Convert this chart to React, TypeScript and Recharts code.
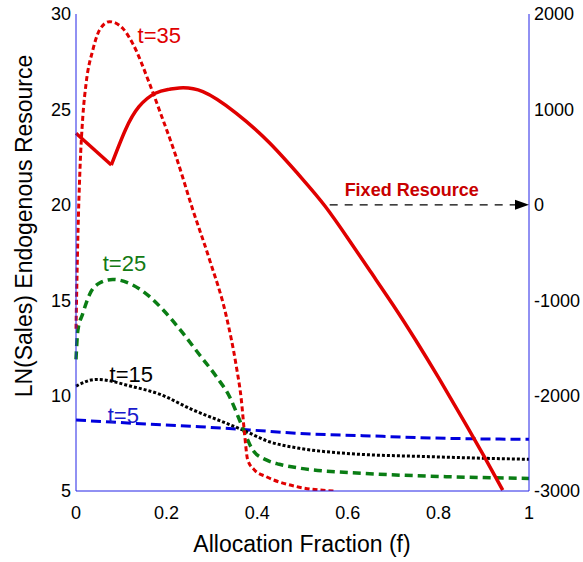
import React from 'react';
import { LineChart, Line, XAxis, YAxis, ReferenceLine, ReferenceDot, Customized } from 'recharts';

// allocation fraction samples and values
const t35F = [0, 0.004, 0.009, 0.015, 0.0225, 0.037, 0.052, 0.074, 0.103, 0.125, 0.162, 0.184, 0.221, 0.258, 0.295, 0.332, 0.354, 0.365, 0.372, 0.379, 0.394, 0.42, 0.493, 0.571];
const t35V = [13.5, 18.2, 22, 24.6, 26.4, 28.1, 29.16, 29.6, 29.25, 28.46, 26.37, 24.97, 22.52, 19.73, 17.11, 14.14, 11.52, 9.77, 8.02, 6.63, 6.1, 5.75, 5.2, 5.0];

const t25F = [0, 0.004, 0.015, 0.03, 0.052, 0.081, 0.125, 0.162, 0.192, 0.236, 0.273, 0.31, 0.339, 0.361, 0.376, 0.39, 0.42, 0.449, 0.493, 0.633, 0.817, 1];
const t25V = [11.9, 13.4, 14.3, 15.3, 15.9, 16.09, 15.8, 15.2, 14.5, 13.27, 12.13, 10.99, 9.94, 8.72, 7.85, 7.15, 6.63, 6.4, 6.2, 5.93, 5.75, 5.66];

const t15F = [0, 0.045, 0.125, 0.184, 0.258, 0.332, 0.368, 0.427, 0.493, 0.596, 0.78, 1];
const t15V = [10.5, 10.85, 10.47, 10.08, 9.25, 8.55, 8.2, 7.58, 7.24, 6.97, 6.8, 6.66];

const t5F = [0, 0.125, 0.273, 0.383, 0.493, 0.633, 0.817, 1];
const t5V = [8.72, 8.55, 8.37, 8.2, 8.02, 7.9, 7.76, 7.71];

// fixed resource (right axis): straight drop to the kink, then the smooth arc
const fixedDropF = [0, 0.078];
const fixedDropV = [750, 417];
const fixedArcF = [0.078, 0.109, 0.139, 0.175, 0.205, 0.228, 0.28, 0.354, 0.427, 0.5, 0.55, 0.6, 0.65, 0.7, 0.75, 0.8, 0.85, 0.9, 0.942];
const fixedArcV = [417, 784, 1028, 1169, 1210, 1225, 1186, 959, 650, 270, -15, -350, -700, -1050, -1420, -1810, -2215, -2630, -2990];

const xTicks = [0, 0.2, 0.4, 0.6, 0.8, 1];
const leftTicks = [5, 10, 15, 20, 25, 30];
const rightTicks = [-3000, -2000, -1000, 0, 1000, 2000];

const toPoints = (fs: number[], vs: number[]) => fs.map((f, i) => ({ f, v: vs[i] }));

const FONT = '"Liberation Sans", Arial, sans-serif';
const AXIS = '#2323e6';
const RED = '#e00000';
const tickStyle = { fill: '#000', fontSize: 18, fontFamily: FONT };

const TextMark = (text: string, color: string, size: number, bold = false) => (props: any) => (
  <text x={props.cx} y={props.cy} fill={color} fontSize={size} fontFamily={FONT} fontWeight={bold ? 'bold' : 'normal'}>
    {text}
  </text>
);

const ArrowHead = (props: any) => {
  const { cx, cy } = props;
  return <polygon points={`${cx},${cy} ${cx - 14},${cy - 5} ${cx - 14},${cy + 5}`} fill="#000" />;
};

const Titles = () => (
  <g fontFamily={FONT} fill="#000">
    <text x={302} y={552} textAnchor="middle" fontSize={23}>Allocation Fraction (f)</text>
    <text x={32} y={226} textAnchor="middle" fontSize={23} transform="rotate(-90 32 226)">LN(Sales) Endogenous Resource</text>
  </g>
);

export default function App() {
  return (
    <div style={{ position: 'absolute', left: 0, top: 0, background: '#fff' }}>
      <LineChart width={583} height={562} margin={{ top: 14, right: 0, bottom: 0, left: 16 }}>
        <XAxis
          type="number"
          dataKey="f"
          domain={[0, 1]}
          ticks={xTicks}
          tickFormatter={(v) => String(v)}
          height={71}
          tickLine={false}
          tickSize={0}
          tickMargin={15}
          axisLine={{ stroke: AXIS }}
          tick={tickStyle}
        />
        <YAxis
          yAxisId="left"
          domain={[5, 30]}
          ticks={leftTicks}
          width={60}
          tickLine={false}
          tickSize={0}
          tickMargin={5}
          axisLine={{ stroke: AXIS }}
          tick={tickStyle}
          allowDataOverflow
        />
        <YAxis
          yAxisId="right"
          orientation="right"
          domain={[-3000, 2000]}
          ticks={rightTicks}
          width={54}
          tickLine={false}
          tickSize={0}
          tickMargin={5}
          axisLine={{ stroke: AXIS }}
          tick={tickStyle}
          allowDataOverflow
        />
        <Line yAxisId="left" data={toPoints(t5F, t5V)} dataKey="v" type="monotone" stroke="#0000dd" strokeWidth={3} strokeDasharray="10 5" dot={false} isAnimationActive={false} />
        <Line yAxisId="left" data={toPoints(t15F, t15V)} dataKey="v" type="monotone" stroke="#000" strokeWidth={3} strokeDasharray="3 2" dot={false} isAnimationActive={false} />
        <Line yAxisId="left" data={toPoints(t25F, t25V)} dataKey="v" type="monotone" stroke="#0a7d14" strokeWidth={3.5} strokeDasharray="8 5" dot={false} isAnimationActive={false} />
        <Line yAxisId="left" data={toPoints(t35F, t35V)} dataKey="v" type="monotone" stroke={RED} strokeWidth={3} strokeDasharray="5 3" dot={false} isAnimationActive={false} />
        <Line yAxisId="right" data={toPoints(fixedDropF, fixedDropV)} dataKey="v" type="linear" stroke={RED} strokeWidth={3.5} dot={false} isAnimationActive={false} />
        <Line yAxisId="right" data={toPoints(fixedArcF, fixedArcV)} dataKey="v" type="natural" stroke={RED} strokeWidth={3.5} dot={false} isAnimationActive={false} />

        <ReferenceLine yAxisId="right" segment={[{ x: 0.56, y: 0 }, { x: 0.975, y: 0 }]} stroke="#000" strokeWidth={1.2} strokeDasharray="8 7" />
        <ReferenceDot yAxisId="right" x={1} y={0} r={5} shape={ArrowHead} ifOverflow="visible" />
        <ReferenceDot yAxisId="right" x={0.593} y={92} r={1} shape={TextMark('Fixed Resource', '#c80000', 18, true)} ifOverflow="visible" />

        <ReferenceDot yAxisId="left" x={0.136} y={28.48} r={1} shape={TextMark('t=35', RED, 22)} ifOverflow="visible" />
        <ReferenceDot yAxisId="left" x={0.059} y={16.55} r={1} shape={TextMark('t=25', '#137a13', 22)} ifOverflow="visible" />
        <ReferenceDot yAxisId="left" x={0.074} y={10.73} r={1} shape={TextMark('t=15', '#000', 22)} ifOverflow="visible" />
        <ReferenceDot yAxisId="left" x={0.07} y={8.55} r={1} shape={TextMark('t=5', '#1a1acc', 22)} ifOverflow="visible" />

        <Customized component={Titles} />
      </LineChart>
    </div>
  );
}
